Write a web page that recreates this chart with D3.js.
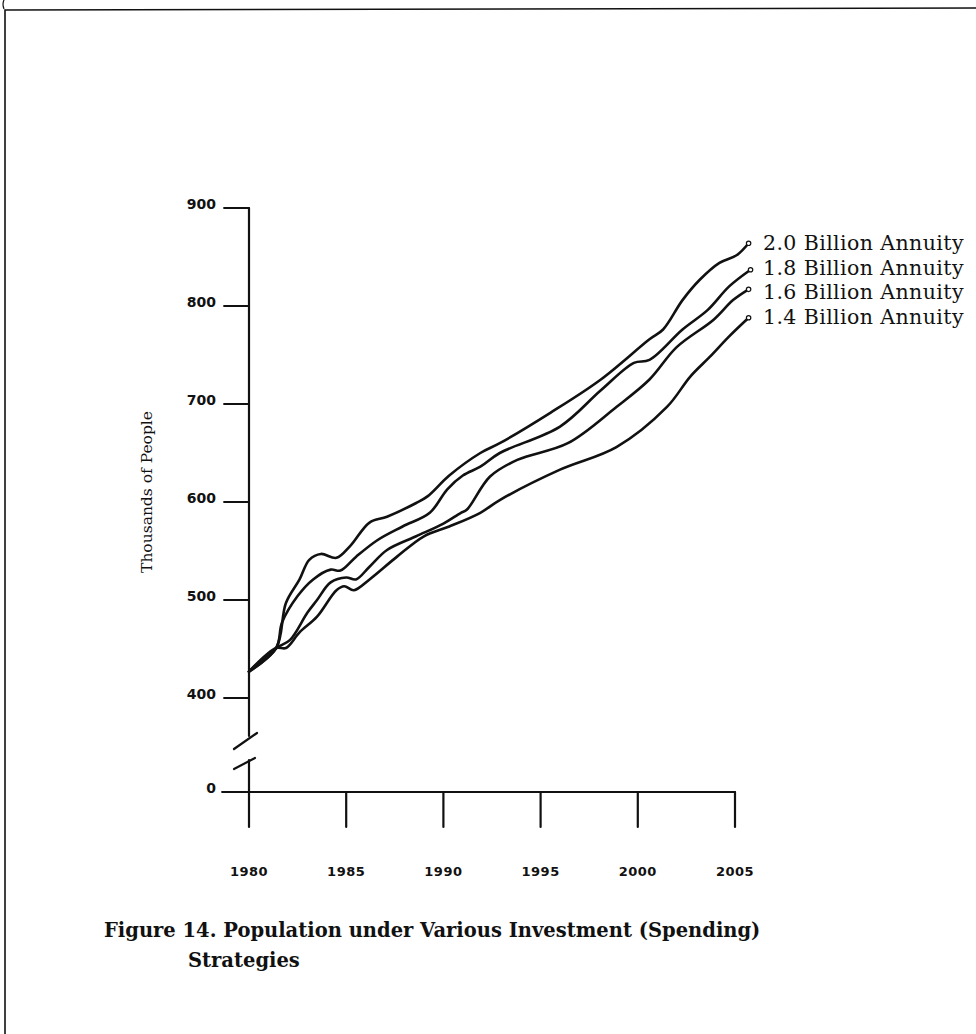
<!DOCTYPE html>
<html>
<head>
<meta charset="utf-8">
<script src="https://cdn.jsdelivr.net/npm/d3@7"></script>
<style>
  body { margin: 0; background: #fff; }
  svg { display: block; }
</style>
</head>
<body>
<figure id="chart" style="margin:0"></figure>
<script>
// values (year, thousands of people)
const xYears = [1980, 1985, 1990, 1995, 2000, 2005];
const yTickValues = [400, 500, 600, 700, 800, 900];
const seriesLabels = ['2.0 Billion Annuity', '1.8 Billion Annuity', '1.6 Billion Annuity', '1.4 Billion Annuity'];

const annuity20 = [[1980, 427], [1981.4, 451], [1981.9, 497], [1982.6, 521], [1983.1, 541], [1983.7, 547], [1984.5, 543],
  [1985.2, 555], [1986.2, 579], [1987.1, 585], [1988.6, 599], [1989.2, 606], [1990.3, 627], [1991.9, 650], [1992.9, 660],
  [1995.5, 691], [1998.1, 725], [2000.6, 766], [2001.3, 776], [2002.3, 806], [2003.2, 827], [2004.2, 844], [2005.1, 852], [2005.7, 864]];
const annuity18 = [[1980, 427], [1981.4, 451], [1981.7, 477], [1982.5, 504], [1983.3, 521], [1984.2, 531], [1984.7, 530],
  [1985.5, 544], [1986.6, 561], [1987.9, 575], [1989.3, 589], [1990.2, 613], [1991.0, 627], [1991.9, 636], [1992.9, 650],
  [1996.0, 677], [1998.1, 714], [1999.8, 742], [2000.6, 745], [2002.3, 776], [2003.6, 796], [2004.7, 820], [2005.8, 837]];
const annuity16 = [[1980, 427], [1981.4, 451], [1982.1, 459], [1983.0, 487], [1983.5, 500], [1984.2, 518], [1985.0, 523],
  [1985.5, 521], [1986.2, 534], [1987.1, 551], [1988.6, 565], [1990.0, 578], [1990.9, 589], [1991.2, 592], [1992.4, 626],
  [1993.8, 643], [1996.4, 660], [1998.9, 697], [2000.6, 725], [2002.0, 758], [2003.9, 786], [2004.9, 806], [2005.7, 817]];
const annuity14 = [[1980, 427], [1981.4, 451], [1981.9, 451], [1982.6, 467], [1983.5, 483], [1984.5, 510], [1984.9, 514],
  [1985.4, 510], [1986.2, 521], [1987.6, 544], [1989.0, 565], [1990.3, 575], [1991.9, 589], [1992.9, 602], [1996.0, 633],
  [1998.9, 656], [2001.5, 697], [2002.7, 728], [2003.7, 748], [2004.7, 769], [2005.7, 788]];
const allSeries = [annuity20, annuity18, annuity16, annuity14];

const width = 976, height = 1034;
const ink = '#111';

const svg = d3.select('figure#chart')
  .append('svg')
  .attr('width', width)
  .attr('height', height);

svg.append('rect').attr('width', width).attr('height', height).attr('fill', '#fff');

// page border (scan edge)
svg.append('path')
  .attr('d', 'M5,1034 L5,10 L976,8')
  .attr('fill', 'none').attr('stroke', ink).attr('stroke-width', 1.6);
svg.append('path')
  .attr('d', 'M4,0 Q2,4 4,9')
  .attr('fill', 'none').attr('stroke', ink).attr('stroke-width', 1.2);

const x = d3.scaleLinear().domain([1980, 2005]).range([249, 735]);
const y = d3.scaleLinear().domain([400, 900]).range([698, 208]);
const zeroY = 792;      // the "0" after the axis break
const breakTop = 736, breakBottom = 760;

const axes = svg.append('g').attr('stroke', ink).attr('fill', 'none').attr('stroke-linecap', 'round');

// y axis, upper part
axes.append('line').attr('x1', x(1980)).attr('x2', x(1980)).attr('y1', y(900)).attr('y2', breakTop).attr('stroke-width', 2.2);
// break marks
axes.append('line').attr('x1', 234).attr('y1', 749).attr('x2', 257).attr('y2', 733).attr('stroke-width', 2.2);
axes.append('line').attr('x1', 234).attr('y1', 769).attr('x2', 255).attr('y2', 758).attr('stroke-width', 2.2);
// y axis, lower part
axes.append('line').attr('x1', x(1980)).attr('x2', x(1980)).attr('y1', breakBottom).attr('y2', zeroY).attr('stroke-width', 2.2);

// y ticks
axes.selectAll('line.ytick')
  .data(yTickValues)
  .enter()
  .append('line')
  .attr('class', 'ytick')
  .attr('x1', 224).attr('x2', x(1980))
  .attr('y1', d => y(d)).attr('y2', d => y(d))
  .attr('stroke-width', 1.8);
axes.append('line').attr('x1', 222).attr('x2', x(1980)).attr('y1', zeroY).attr('y2', zeroY).attr('stroke-width', 1.8);

// x axis + ticks hanging down
axes.append('line').attr('x1', x(1980)).attr('x2', x(2005)).attr('y1', zeroY).attr('y2', zeroY).attr('stroke-width', 2.2);
axes.selectAll('line.xtick')
  .data(xYears)
  .enter()
  .append('line')
  .attr('class', 'xtick')
  .attr('x1', d => x(d)).attr('x2', d => x(d))
  .attr('y1', zeroY).attr('y2', zeroY + 35)
  .attr('stroke-width', 2.2);

const labels = svg.append('g').attr('fill', ink);

labels.selectAll('text.ylab')
  .data(yTickValues.concat([0]))
  .enter()
  .append('text')
  .attr('class', 'ylab')
  .attr('x', 216)
  .attr('y', d => d === 0 ? zeroY + 1 : y(d) + 1)
  .attr('text-anchor', 'end')
  .style('font', 'bold 14px "DejaVu Sans", sans-serif')
  .text(d => d);

labels.selectAll('text.xlab')
  .data(xYears)
  .enter()
  .append('text')
  .attr('class', 'xlab')
  .attr('x', d => x(d))
  .attr('y', 876)
  .attr('text-anchor', 'middle')
  .style('font', 'bold 13px "DejaVu Sans", sans-serif')
  .style('letter-spacing', '0.5px')
  .text(d => d);

labels.append('text')
  .attr('transform', 'translate(152,492) rotate(-90)')
  .attr('text-anchor', 'middle')
  .style('font', '15.5px "DejaVu Serif", serif')
  .text('Thousands of People');

// the four population curves
const line = d3.line()
  .x(d => x(d[0]))
  .y(d => y(d[1]))
  .curve(d3.curveCatmullRom.alpha(0.5));

svg.append('g')
  .selectAll('path')
  .data(allSeries)
  .enter()
  .append('path')
  .attr('d', line)
  .attr('fill', 'none')
  .attr('stroke', ink)
  .attr('stroke-width', 2.6)
  .attr('stroke-linejoin', 'round')
  .attr('stroke-linecap', 'round');

// little pen loops at the line ends
svg.append('g')
  .selectAll('circle')
  .data(allSeries)
  .enter()
  .append('circle')
  .attr('cx', d => x(d[d.length - 1][0]))
  .attr('cy', d => y(d[d.length - 1][1]))
  .attr('r', 2.2)
  .attr('fill', '#fff')
  .attr('stroke', ink)
  .attr('stroke-width', 1.2);

// legend at the right ends
labels.selectAll('text.series')
  .data(seriesLabels)
  .enter()
  .append('text')
  .attr('class', 'series')
  .attr('x', 763)
  .attr('y', (d, i) => 250 + i * 24.5)
  .style('font', '20.5px "DejaVu Serif", serif')
  .style('letter-spacing', '0.4px')
  .text(d => d);

// caption
const caption = labels.append('text')
  .style('font', 'bold 19.5px "DejaVu Serif", serif');
caption.append('tspan').attr('x', 104).attr('y', 937).text('Figure 14. Population under Various Investment (Spending)');
caption.append('tspan').attr('x', 188).attr('y', 967).text('Strategies');
</script>
</body>
</html>
